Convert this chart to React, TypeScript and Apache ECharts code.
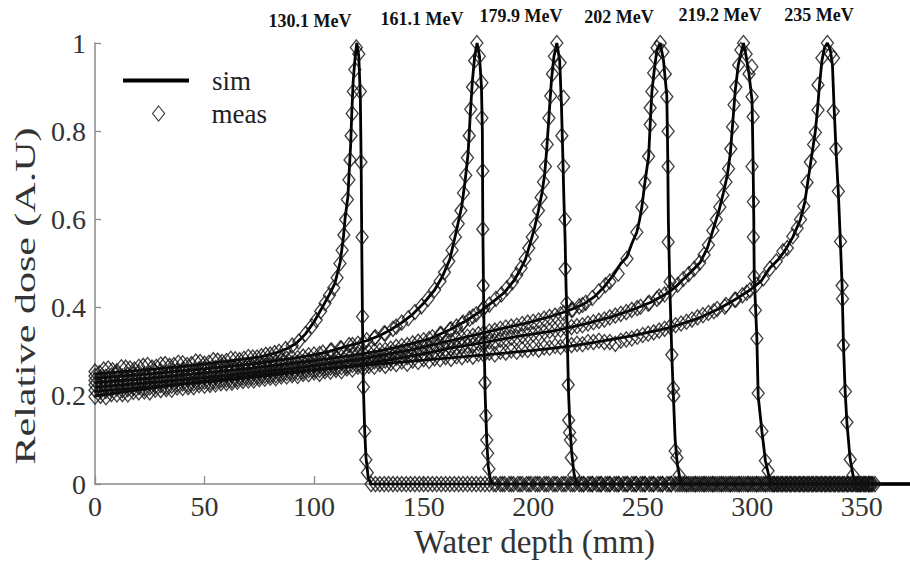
import React, { useEffect, useRef } from "react";
import * as echarts from "echarts";

// ---------- data ----------
const energyLabels = ["130.1 MeV", "161.1 MeV", "179.9 MeV", "202 MeV", "219.2 MeV", "235 MeV"];
const xTickValues = [0, 50, 100, 150, 200, 250, 300, 350];
const yTickValues = [0, 0.2, 0.4, 0.6, 0.8, 1];

const simA = [[0,0.25],[20,0.258],[40,0.267],[60,0.278],[75,0.288],[83,0.298],[88,0.308],[92,0.32],[96,0.34],[100,0.368],[104,0.403],[107,0.43],[109.5,0.455],[111.9,0.503],[113.4,0.56],[114.2,0.605],[115.4,0.65],[116.1,0.715],[116.7,0.77],[117.2,0.84],[117.8,0.91],[118.6,0.96],[119.5,1.0],[120.4,0.97],[121.1,0.88],[121.5,0.72],[121.8,0.52],[122.1,0.36],[122.5,0.22],[123.1,0.12],[123.7,0.06],[124.7,0.015],[126,0],[400,0]];
const simB = [[0,0.24],[25,0.25],[50,0.261],[75,0.274],[90,0.285],[100,0.293],[107,0.301],[116,0.314],[124,0.325],[130,0.337],[135,0.35],[140,0.366],[145,0.385],[150,0.41],[155,0.44],[158.5,0.47],[162,0.51],[165,0.575],[167.4,0.63],[169,0.69],[170.3,0.75],[171.2,0.83],[172.2,0.91],[173.3,0.97],[174.4,1.0],[175.5,0.97],[176.4,0.9],[176.8,0.8],[177,0.6],[177.3,0.45],[177.7,0.3],[178.1,0.2],[178.8,0.1],[179.5,0.04],[180.5,0.01],[181.5,0],[400,0]];
const simC = [[0,0.23],[25,0.24],[50,0.252],[75,0.265],[100,0.28],[115,0.29],[130,0.302],[142,0.315],[153,0.33],[162,0.35],[170,0.372],[176,0.392],[182,0.415],[187,0.435],[191,0.46],[194,0.485],[196.5,0.51],[198.6,0.545],[200.6,0.58],[202.4,0.62],[204,0.66],[205.2,0.7],[206.2,0.76],[207.3,0.84],[208.4,0.92],[209.5,0.97],[210.8,1.0],[212.1,0.96],[212.9,0.86],[213.5,0.75],[214,0.65],[214.6,0.55],[215,0.45],[215.4,0.38],[215.8,0.28],[216.2,0.2],[216.8,0.13],[217.6,0.07],[218.6,0.025],[219.8,0],[400,0]];
const simD = [[0,0.22],[30,0.232],[60,0.246],[90,0.262],[120,0.282],[145,0.305],[162,0.325],[175,0.34],[185,0.352],[197,0.365],[208,0.38],[216,0.393],[223,0.408],[228,0.425],[232,0.445],[236.5,0.473],[240,0.5],[242.8,0.515],[245,0.545],[247.3,0.571],[248.6,0.6],[249.6,0.628],[251,0.684],[252.7,0.743],[253.4,0.815],[254.2,0.89],[255.2,0.935],[256.5,0.985],[258,1.0],[259.5,0.96],[261,0.88],[261.4,0.75],[261.7,0.6],[262.3,0.46],[263.3,0.29],[264,0.2],[264.8,0.1],[265.8,0.045],[267,0.012],[268,0],[400,0]];
const simE = [[0,0.21],[30,0.222],[60,0.236],[90,0.252],[120,0.27],[150,0.295],[162,0.308],[180,0.323],[193,0.335],[210,0.348],[223,0.362],[235,0.378],[245.7,0.396],[254,0.413],[261,0.432],[265,0.447],[268,0.462],[272,0.481],[276.3,0.503],[279.5,0.535],[282.2,0.578],[284.8,0.62],[286.8,0.66],[288.6,0.7],[290,0.75],[291.1,0.82],[292.2,0.89],[293.6,0.95],[296,1.0],[297.2,0.97],[298.5,0.93],[299.9,0.87],[300.4,0.72],[300.7,0.6],[300.9,0.47],[301.6,0.39],[302.1,0.33],[302.7,0.2],[304.4,0.12],[306,0.053],[307.5,0.02],[309,0],[400,0]];
const simF = [[0,0.2],[40,0.227],[80,0.25],[120,0.268],[162,0.286],[200,0.303],[217,0.313],[230,0.323],[245,0.336],[262.6,0.355],[275,0.375],[285,0.398],[292,0.418],[299,0.44],[304,0.46],[308,0.49],[312,0.51],[315,0.53],[318.5,0.56],[322,0.6],[324,0.64],[325.5,0.69],[327,0.74],[328.8,0.8],[329.8,0.85],[330.6,0.9],[331.8,0.96],[333,0.99],[334.3,1.0],[335.6,0.985],[336.6,0.95],[337.3,0.86],[338.3,0.75],[339.3,0.66],[340.3,0.54],[341,0.45],[341.6,0.32],[342.4,0.21],[343.2,0.14],[344.6,0.06],[346,0.02],[347.5,0],[400,0]];

const measA = [[0,0.255],[4,0.26],[8,0.258],[12,0.265],[16,0.262],[20,0.266],[24,0.27],[28,0.266],[32,0.272],[36,0.27],[40,0.274],[44,0.272],[48,0.277],[52,0.275],[56,0.28],[60,0.279],[64,0.283],[68,0.284],[72,0.287],[76,0.29],[80,0.294],[84,0.3],[87,0.306],[90,0.314],[93,0.323],[96,0.34],[99,0.358],[101,0.372],[103,0.392],[105,0.41],[107,0.428],[109,0.445],[110.5,0.468],[111.8,0.5],[112.8,0.53],[113.6,0.565],[114.4,0.6],[115.2,0.645],[115.9,0.69],[116.4,0.735],[116.9,0.79],[117.4,0.84],[117.9,0.89],[118.6,0.94],[119.3,0.99],[120.4,0.975],[121.1,0.89],[121.4,0.73],[121.9,0.56],[122.1,0.38],[122.5,0.22],[123.1,0.12],[123.6,0.055],[124.3,0.026]];
const measB = [[0,0.245],[5,0.243],[10,0.25],[15,0.248],[20,0.253],[25,0.25],[30,0.256],[35,0.255],[40,0.259],[45,0.257],[50,0.262],[55,0.263],[60,0.266],[65,0.266],[70,0.271],[75,0.273],[80,0.277],[85,0.28],[90,0.286],[95,0.289],[100,0.294],[104,0.298],[108,0.303],[112,0.308],[116,0.315],[120,0.318],[124,0.326],[128,0.333],[132,0.342],[136,0.352],[140,0.366],[143,0.376],[146,0.39],[149,0.403],[152,0.42],[155,0.44],[157.5,0.46],[159.5,0.48],[161.5,0.505],[163,0.53],[164.5,0.56],[165.8,0.59],[167,0.62],[168.2,0.66],[169.2,0.7],[170,0.74],[170.8,0.79],[171.5,0.85],[172.3,0.9],[173.3,0.96],[174.3,1.0],[175.4,0.97],[176.6,0.91],[176.6,0.83],[177,0.71],[177,0.578],[177.2,0.45],[177.6,0.32],[178,0.23],[178.4,0.155],[178.8,0.1],[179.2,0.07],[179.8,0.035]];
const measC = [[0,0.235],[5,0.233],[10,0.239],[15,0.237],[20,0.243],[25,0.241],[30,0.246],[35,0.246],[40,0.25],[45,0.25],[50,0.254],[55,0.254],[60,0.258],[65,0.259],[70,0.263],[75,0.265],[80,0.268],[85,0.27],[90,0.274],[95,0.276],[100,0.28],[105,0.284],[110,0.287],[115,0.292],[120,0.294],[125,0.299],[130,0.303],[135,0.307],[140,0.313],[145,0.319],[150,0.326],[154,0.333],[158,0.34],[162,0.35],[165,0.357],[168,0.366],[171,0.375],[174,0.385],[177,0.396],[180,0.407],[183,0.42],[185.5,0.43],[188,0.444],[190.5,0.458],[192.5,0.474],[194.5,0.49],[196.3,0.51],[198,0.535],[199.6,0.56],[201,0.588],[202.4,0.62],[203.6,0.65],[204.7,0.685],[205.6,0.72],[206.4,0.77],[207.2,0.83],[208,0.88],[208.8,0.93],[209.7,0.97],[210.8,1.0],[212.3,0.955],[213.9,0.876],[213.1,0.79],[213.9,0.72],[214.6,0.6],[214.6,0.488],[215.4,0.41],[216,0.225],[216.2,0.145],[216.6,0.117],[217,0.1],[217.4,0.06],[218.5,0.02]];
const measD = [[0,0.225],[5,0.222],[10,0.228],[15,0.226],[20,0.231],[25,0.229],[30,0.234],[35,0.234],[40,0.238],[45,0.237],[50,0.242],[55,0.242],[60,0.246],[65,0.247],[70,0.251],[75,0.252],[80,0.256],[85,0.258],[90,0.262],[95,0.264],[100,0.268],[105,0.27],[110,0.275],[115,0.278],[120,0.283],[125,0.286],[130,0.291],[135,0.296],[140,0.3],[145,0.305],[150,0.311],[155,0.316],[160,0.322],[165,0.33],[170,0.334],[175,0.34],[180,0.346],[185,0.352],[190,0.357],[195,0.363],[200,0.368],[205,0.375],[210,0.382],[214,0.388],[218,0.396],[221,0.403],[224,0.411],[227,0.422],[230,0.437],[233,0.451],[235,0.459],[238.8,0.477],[242.8,0.511],[247.3,0.571],[249.6,0.628],[251,0.684],[252.7,0.743],[253.4,0.815],[253.4,0.853],[254.2,0.89],[255,0.932],[255.7,0.966],[256.5,0.989],[258,1.0],[259.2,0.98],[260.3,0.93],[261,0.878],[261.6,0.8],[261.6,0.72],[261.6,0.549],[262.5,0.459],[263.3,0.293],[264,0.217],[264.2,0.2],[264.8,0.075],[265.6,0.06],[266.6,0.02]];
const measE = [[0,0.213],[5,0.211],[10,0.217],[15,0.215],[20,0.22],[25,0.219],[30,0.224],[35,0.223],[40,0.228],[45,0.228],[50,0.232],[55,0.233],[60,0.237],[65,0.238],[70,0.242],[75,0.244],[80,0.247],[85,0.25],[90,0.253],[95,0.256],[100,0.259],[105,0.262],[110,0.265],[115,0.268],[120,0.272],[125,0.276],[130,0.279],[135,0.284],[140,0.288],[145,0.292],[150,0.296],[155,0.301],[160,0.306],[165,0.31],[170,0.314],[175,0.319],[180,0.323],[185,0.327],[190,0.332],[195,0.336],[200,0.34],[205,0.344],[210,0.349],[215,0.353],[220,0.358],[225,0.364],[230,0.37],[235,0.378],[240,0.386],[245,0.395],[249,0.402],[253,0.411],[256.5,0.42],[260,0.43],[263,0.44],[266,0.452],[268.5,0.465],[271,0.476],[273.5,0.488],[276,0.502],[278,0.52],[280,0.542],[282,0.575],[283.6,0.6],[285.2,0.628],[286.6,0.655],[288,0.685],[289.2,0.715],[290.2,0.76],[291,0.81],[291.7,0.86],[292.5,0.9],[293.8,0.95],[294.8,0.984],[296,1.0],[297.2,0.975],[298.5,0.93],[299.8,0.946],[299.9,0.878],[300.4,0.833],[299.9,0.72],[300.5,0.64],[300.5,0.56],[300.9,0.47],[301.4,0.394],[302.1,0.33],[302.7,0.206],[304.4,0.12],[306,0.053],[307.2,0.03]];
const measF = [[0,0.198],[5,0.197],[10,0.203],[15,0.203],[20,0.208],[25,0.208],[30,0.213],[35,0.214],[40,0.218],[45,0.22],[50,0.223],[55,0.226],[60,0.229],[65,0.232],[70,0.235],[75,0.238],[80,0.241],[85,0.244],[90,0.247],[95,0.25],[100,0.253],[105,0.256],[110,0.259],[115,0.262],[120,0.266],[125,0.268],[130,0.272],[135,0.274],[140,0.278],[145,0.28],[150,0.283],[155,0.285],[160,0.288],[165,0.29],[170,0.293],[175,0.295],[180,0.298],[185,0.3],[190,0.303],[195,0.305],[200,0.308],[205,0.31],[210,0.313],[215,0.316],[220,0.318],[225,0.322],[230,0.325],[235,0.322],[240,0.325],[245,0.33],[250,0.338],[255,0.344],[260,0.352],[265,0.36],[270,0.368],[275,0.378],[280,0.388],[284,0.397],[288,0.406],[292,0.418],[295.5,0.428],[299,0.44],[302,0.452],[305,0.466],[308,0.488],[311,0.505],[314,0.528],[316,0.535],[318.5,0.562],[320.5,0.58],[322,0.6],[323.5,0.63],[325,0.684],[326.5,0.73],[328,0.77],[328.8,0.797],[330,0.848],[330,0.905],[331.8,0.966],[334.3,1.0],[335.8,0.975],[337.1,0.966],[337,0.845],[338.2,0.76],[339.3,0.664],[340.3,0.55],[341,0.45],[341.2,0.42],[341.6,0.315],[342.5,0.21],[343.2,0.14],[344.7,0.056],[346,0.02]];

// extra measured points between the ones above, on the entrance plateau
const midA = [[2,0.252],[6,0.262],[10,0.256],[14,0.264],[18,0.26],[22,0.268],[26,0.264],[30,0.271],[34,0.268],[38,0.275],[42,0.27],[46,0.278],[50,0.273],[54,0.281],[58,0.277],[62,0.284],[66,0.281],[70,0.288],[74,0.287],[78,0.293],[82,0.297]];
const midB = [[2.5,0.242],[7.5,0.246],[12.5,0.244],[17.5,0.249],[22.5,0.248],[27.5,0.253],[32.5,0.252],[37.5,0.257],[42.5,0.256],[47.5,0.261],[52.5,0.261],[57.5,0.266],[62.5,0.266],[67.5,0.27],[72.5,0.271],[77.5,0.277],[82.5,0.278],[87.5,0.284],[92.5,0.286],[97.5,0.292],[102.5,0.295],[107.5,0.302],[112.5,0.307],[117.5,0.315],[122.5,0.321],[127.5,0.331],[132.5,0.341],[137.5,0.357]];
const midC = [[2.5,0.232],[7.5,0.235],[12.5,0.234],[17.5,0.239],[22.5,0.238],[27.5,0.243],[32.5,0.243],[37.5,0.248],[42.5,0.247],[47.5,0.252],[52.5,0.252],[57.5,0.257],[62.5,0.258],[67.5,0.262],[72.5,0.263],[77.5,0.268],[82.5,0.269],[87.5,0.274],[92.5,0.275],[97.5,0.28],[102.5,0.281],[107.5,0.287],[112.5,0.288],[117.5,0.294],[122.5,0.296],[127.5,0.301],[132.5,0.304],[137.5,0.311],[142.5,0.315],[147.5,0.323],[152.5,0.329],[157.5,0.34],[162.5,0.351],[167.5,0.363],[172.5,0.38],[177.5,0.4]];
const midD = [[2.5,0.222],[7.5,0.224],[12.5,0.224],[17.5,0.228],[22.5,0.228],[27.5,0.232],[32.5,0.232],[37.5,0.236],[42.5,0.236],[47.5,0.241],[52.5,0.241],[57.5,0.246],[62.5,0.246],[67.5,0.25],[72.5,0.251],[77.5,0.255],[82.5,0.256],[87.5,0.261],[92.5,0.262],[97.5,0.267],[102.5,0.268],[107.5,0.273],[112.5,0.275],[117.5,0.28],[122.5,0.283],[127.5,0.288],[132.5,0.292],[137.5,0.298],[142.5,0.302],[147.5,0.308],[152.5,0.312],[157.5,0.319],[162.5,0.325],[167.5,0.331],[172.5,0.336],[177.5,0.343],[182.5,0.348],[187.5,0.355],[192.5,0.359],[197.5,0.366],[202.5,0.371],[207.5,0.379],[212.5,0.385],[217.5,0.395],[222.5,0.406]];
const midE = [[2.5,0.21],[7.5,0.214],[12.5,0.213],[17.5,0.218],[22.5,0.217],[27.5,0.222],[32.5,0.221],[37.5,0.226],[42.5,0.226],[47.5,0.231],[52.5,0.231],[57.5,0.236],[62.5,0.236],[67.5,0.241],[72.5,0.242],[77.5,0.246],[82.5,0.247],[87.5,0.252],[92.5,0.253],[97.5,0.258],[102.5,0.259],[107.5,0.264],[112.5,0.265],[117.5,0.27],[122.5,0.272],[127.5,0.278],[132.5,0.28],[137.5,0.286],[142.5,0.288],[147.5,0.294],[152.5,0.297],[157.5,0.304],[162.5,0.307],[167.5,0.312],[172.5,0.315],[177.5,0.321],[182.5,0.324],[187.5,0.33],[192.5,0.333],[197.5,0.338],[202.5,0.341],[207.5,0.347],[212.5,0.35],[217.5,0.356],[222.5,0.36],[227.5,0.367],[232.5,0.373],[237.5,0.382],[242.5,0.39],[247.5,0.399],[252.5,0.409],[257.5,0.425]];
const midF = [[2.5,0.2],[7.5,0.204],[12.5,0.204],[17.5,0.209],[22.5,0.21],[27.5,0.214],[32.5,0.215],[37.5,0.219],[42.5,0.22],[47.5,0.224],[52.5,0.225],[57.5,0.229],[62.5,0.23],[67.5,0.234],[72.5,0.235],[77.5,0.239],[82.5,0.24],[87.5,0.244],[92.5,0.245],[97.5,0.249],[102.5,0.25],[107.5,0.255],[112.5,0.256],[117.5,0.26],[122.5,0.262],[127.5,0.266],[132.5,0.268],[137.5,0.272],[142.5,0.273],[147.5,0.277],[152.5,0.279],[157.5,0.283],[162.5,0.284],[167.5,0.288],[172.5,0.289],[177.5,0.293],[182.5,0.294],[187.5,0.298],[192.5,0.3],[197.5,0.304],[202.5,0.305],[207.5,0.309],[212.5,0.311],[217.5,0.315],[222.5,0.317],[227.5,0.322],[232.5,0.322],[237.5,0.318],[242.5,0.328],[247.5,0.334],[252.5,0.341],[257.5,0.348],[262.5,0.357],[267.5,0.364],[272.5,0.373],[277.5,0.383],[282.5,0.392],[287.5,0.402],[292.5,0.418],[297.5,0.434]];

// depths (mm) of measured points lying on the zero-dose tail
const tailA = [126,128,130,132,134,136,138,140,142,144,146,148,150,152,154,156,158,160,162,164,166,168,170,172,174,176,178,180,182,186,190,194,198,202,206,210,214,218,222,226,230,234,238,242,246,250,254,258,262,266,270,274,278,282,286,290,294,298,302,306,310,314,318,322,326,330,334,338,342,346,350,354];
const tailB = [183,185,187,189,191,193,195,197,199,201,203,205,207,209,211,213,215,217,219,223,227,231,235,239,243,247,251,255,259,263,267,271,275,279,283,287,291,295,299,303,307,311,315,319,323,327,331,335,339,343,347,351,355];
const tailC = [221,223,225,227,229,231,233,235,237,239,241,243,245,247,249,251,253,255,257,259,261,263,265,269,273,277,281,285,289,293,297,301,305,309,313,317,321,325,329,333,337,341,345,349,353];
const tailD = [268,270,272,274,276,278,280,282,284,286,288,290,292,294,296,298,300,302,304,306,308,310,312,316,320,324,328,332,336,340,344,348,352];
const tailE = [309.5,311.5,313.5,315.5,317.5,319.5,321.5,323.5,325.5,327.5,329.5,331.5,333.5,335.5,337.5,339.5,341.5,343.5,345.5,347.5,349.5,351.5,353.5];
const tailF = [348.5,351,353,354.5,356];

const simSets = [simA, simB, simC, simD, simE, simF];
const measSets = [measA, measB, measC, measD, measE, measF];
const midSets = [midA, midB, midC, midD, midE, midF];
const tailSets = [tailA, tailB, tailC, tailD, tailE, tailF];

// ---------- layout (pixels) ----------
const labelPos = [[310, 21], [422, 19], [521, 16], [619, 17], [720, 15], [819, 15]];
const SERIF = "Liberation Serif, Times New Roman, serif";
const X_MAX = 372;

export default function App() {
  const ref = useRef<HTMLDivElement>(null);

  useEffect(() => {
    if (!ref.current) return;
    const chart = echarts.init(ref.current, undefined, { renderer: "svg" });

    const series: any[] = [];
    simSets.forEach((d) => {
      series.push({
        name: "sim",
        type: "line",
        data: d,
        symbol: "none",
        color: "#000",
        lineStyle: { color: "#000", width: 2.8 },
        z: 2,
        clip: true,
      });
    });
    measSets.forEach((d, i) => {
      series.push({
        name: "meas",
        type: "scatter",
        data: d.concat(midSets[i], tailSets[i].map((x) => [x, 0])),
        symbol: "diamond",
        symbolSize: [12, 15],
        itemStyle: { color: "rgba(0,0,0,0)", borderColor: "#111", borderWidth: 1.35 },
        z: 3,
        clip: false,
      });
    });

    const graphic: any[] = energyLabels.map((t, i) => ({
      type: "text",
      x: labelPos[i][0],
      y: labelPos[i][1],
      style: {
        text: t,
        font: `bold 18px ${SERIF}`,
        fill: "#111",
        textAlign: "center",
        textVerticalAlign: "middle",
        align: "center",
        verticalAlign: "middle",
      },
    }));
    graphic.push({
      type: "text",
      x: 25,
      y: 296,
      rotation: Math.PI / 2,
      scaleX: 1.4,
      style: {
        text: "Relative dose (A.U)",
        font: `30px ${SERIF}`,
        fill: "#333",
        textAlign: "center",
        textVerticalAlign: "middle",
        align: "center",
        verticalAlign: "middle",
      },
    });

    chart.setOption({
      animation: false,
      backgroundColor: "#fff",
      grid: { left: 95, right: 0, top: 43, bottom: 76.5, containLabel: false },
      xAxis: {
        type: "value",
        min: 0,
        max: X_MAX,
        interval: 50,
        name: "Water depth (mm)",
        nameLocation: "middle",
        nameGap: 40,
        nameTextStyle: { fontFamily: SERIF, fontSize: 33, color: "#333", padding: [0, 0, 0, 64] },
        axisLine: { lineStyle: { color: "#8a8a8a", width: 1.5 } },
        axisTick: { inside: true, length: 8, lineStyle: { color: "#8a8a8a", width: 1.3 } },
        axisLabel: {
          fontFamily: SERIF,
          fontSize: 28,
          color: "#333",
          margin: 8,
          showMaxLabel: false,
          formatter: (v: number) => (xTickValues.includes(v) ? String(v) : ""),
        },
        splitLine: { show: false },
      },
      yAxis: {
        type: "value",
        min: 0,
        max: 1,
        interval: 0.2,
        axisLine: { show: true, lineStyle: { color: "#8a8a8a", width: 1.5 } },
        axisTick: { show: true, inside: true, length: 6, lineStyle: { color: "#8a8a8a", width: 1.3 } },
        axisLabel: {
          fontFamily: SERIF,
          fontSize: 28,
          color: "#333",
          margin: 9,
          formatter: (v: number) => {
            const r = Math.round(v * 10) / 10;
            return yTickValues.includes(r) ? String(r) : "";
          },
        },
        splitLine: { show: false },
      },
      legend: [
        {
          data: [{ name: "sim", icon: "rect" }],
          left: 118,
          top: 62,
          itemWidth: 66,
          itemHeight: 4,
          selectedMode: false,
          itemStyle: { color: "#000", borderWidth: 0 },
          textStyle: { fontFamily: SERIF, fontSize: 27, color: "#222", padding: [0, 0, 0, 18] },
        },
        {
          data: [{ name: "meas", icon: "diamond" }],
          left: 147,
          top: 95,
          itemWidth: 12,
          itemHeight: 15,
          selectedMode: false,
          itemStyle: { color: "rgba(0,0,0,0)", borderColor: "#111", borderWidth: 1.2 },
          textStyle: { fontFamily: SERIF, fontSize: 27, color: "#222", padding: [0, 0, 0, 42] },
        },
      ],
      graphic,
      series,
    });

    return () => chart.dispose();
  }, []);

  return (
    <div
      ref={ref}
      style={{ position: "fixed", left: 0, top: 0, width: 910, height: 563, background: "#fff" }}
    />
  );
}
